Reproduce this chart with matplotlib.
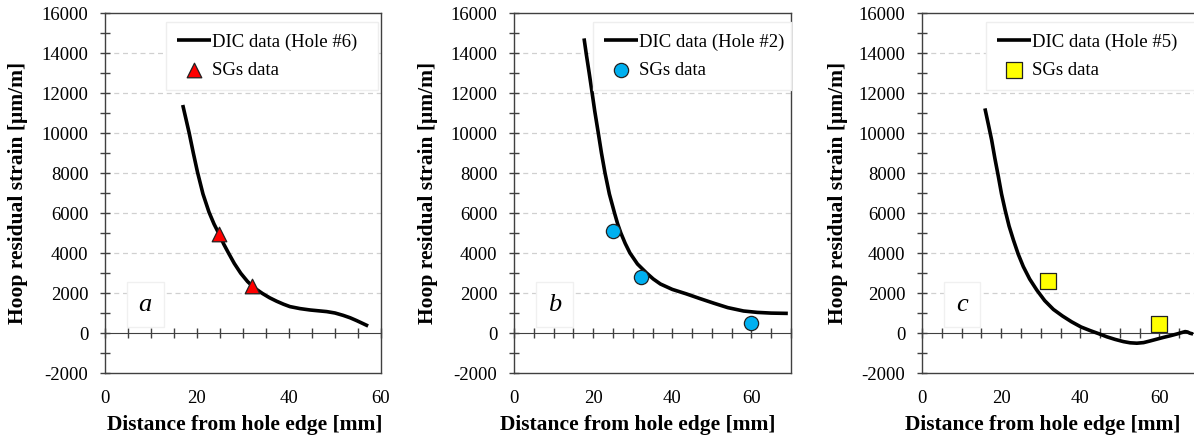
import matplotlib.pyplot as plt
from matplotlib.ticker import MultipleLocator

plt.rcParams['font.family'] = ['Liberation Serif', 'DejaVu Serif']
plt.rcParams['axes.unicode_minus'] = False

# panel a - hole #6
dic_a_x = [16.9, 17.6, 18.3, 19.2, 20.1, 21.3, 22.6, 23.7, 24.8, 25.8, 26.8, 28.1, 29.5, 31.0,
           32.5, 34.2, 35.8, 37.3, 38.8, 40.2, 42.4, 44.6, 46.4, 48.2, 50.0, 51.8, 53.3, 54.7,
           56.0, 57.2]
dic_a_y = [11400, 10700, 10000, 9000, 8050, 6950, 6050, 5450, 4950, 4450, 4020, 3480, 2990, 2570,
           2250, 1980, 1760, 1590, 1440, 1320, 1220, 1150, 1110, 1070, 1000, 880, 760, 620,
           480, 350]
sg_a_x = [24.8, 32.0]
sg_a_y = [4950, 2370]

# panel b - hole #2
dic_b_x = [17.7, 18.3, 19.0, 19.6, 20.4, 21.3, 22.1, 23.0, 24.1, 25.4, 26.2, 27.0, 28.1, 29.3,
           31.2, 33.5, 35.2, 37.0, 40.0, 43.5, 47.0, 50.5, 54.0, 58.0, 61.5, 65.0, 69.2]
dic_b_y = [14730, 13900, 13000, 12200, 11100, 10000, 9000, 8000, 6950, 6000, 5450, 5000, 4480, 4000,
           3450, 3000, 2700, 2450, 2180, 1960, 1720, 1490, 1270, 1100, 1030, 995, 980]
sg_b_x = [24.9, 32.0, 60.0]
sg_b_y = [5100, 2780, 480]

# panel c - hole #5
dic_c_x = [15.9, 16.8, 17.6, 18.4, 19.3, 20.1, 21.0, 22.0, 23.1, 24.3, 25.6, 27.2, 29.0, 31.0,
           33.2, 35.5, 37.8, 40.2, 42.5, 44.6, 46.7, 48.8, 50.9, 52.6, 54.3, 56.0, 57.6, 59.3,
           61.0, 62.7, 64.4, 65.6, 66.5, 67.1, 67.7, 68.5]
dic_c_y = [11230, 10400, 9650, 8750, 7820, 6950, 6150, 5350, 4650, 3950, 3320, 2700, 2150, 1620,
           1180, 850, 560, 300, 120, -30, -190, -320, -430, -490, -510, -480, -400, -310,
           -220, -140, -50, 20, 70, 50, -10, -50]
sg_c_x = [31.9, 60.0]
sg_c_y = [2620, 450]

# tag, curve, points, legend label, marker, colour, size, xmax, axes left/width px,
# x-label centre, y-label pos, legend box (x0, width)
panels = [
    ("a", dic_a_x, dic_a_y, sg_a_x, sg_a_y, "DIC data (Hole #6)", "^", "#ff0000", 110, 60, 105, 276,
     0.505, -0.279, (0.221, 0.768)),
    ("b", dic_b_x, dic_b_y, sg_b_x, sg_b_y, "DIC data (Hole #2)", "o", "#00b0f0", 105, 70, 514, 277,
     0.446, -0.274, (0.285, 0.715)),
    ("c", dic_c_x, dic_c_y, sg_c_x, sg_c_y, "DIC data (Hole #5)", "s", "#ffff00", 120, 70, 922, 277,
     0.437, -0.267, (0.231, 0.79)),
]

W, H = 1194, 440
fig = plt.figure(figsize=(W / 100, H / 100), dpi=100)

for (tag, dx, dy, sx, sy, lab, mk, col, msize, xmax, left_px, width_px,
     xlab_x, ylab_x, legbox) in panels:
    ax = fig.add_axes([left_px / W, 1 - 373 / H, width_px / W, 360 / H])
    ax.set_xlim(0, xmax)
    ax.set_ylim(-2000, 16000)

    for yy in range(2000, 16000, 2000):
        ax.axhline(yy, color="#d0d0d0", lw=0.9, ls=(0, (4, 3)), zorder=0)

    ax.plot(dx, dy, color="black", lw=2.6, label=lab, zorder=3,
            solid_capstyle="butt", solid_joinstyle="round")
    ax.scatter(sx, sy, marker=mk, s=msize, facecolor=col,
               edgecolor="#222222", linewidth=0.9, zorder=4, label="SGs data")

    for sp in ax.spines.values():
        sp.set_color("#404040")
        sp.set_linewidth(1.0)

    ax.yaxis.set_major_locator(MultipleLocator(2000))
    ax.yaxis.set_minor_locator(MultipleLocator(1000))
    ax.tick_params(axis="y", which="both", direction="inout", length=7, width=1.0,
                   color="#404040", labelsize=13.5, pad=8.5)
    ax.xaxis.set_major_locator(MultipleLocator(20))
    ax.tick_params(axis="x", which="both", length=0, labelsize=13.5, pad=12)

    # axis line through y = 0 with crossing ticks
    zero = ax.secondary_xaxis(2000 / 18000)
    zero.xaxis.set_major_locator(MultipleLocator(5))
    zero.tick_params(direction="inout", length=7, width=1.0, color="#404040",
                     labelbottom=False, labeltop=False)
    zero.spines["bottom"].set_color("#404040")
    zero.spines["top"].set_color("#404040")

    ax.set_xlabel("Distance from hole edge [mm]", fontsize=15.5, fontweight="bold")
    ax.set_ylabel("Hoop residual strain [μm/m]", fontsize=15.5, fontweight="bold")
    ax.xaxis.set_label_coords(xlab_x, -0.118)
    ax.yaxis.set_label_coords(ylab_x, 0.5)

    x0, w = legbox
    leg = ax.legend(loc="upper left", bbox_to_anchor=(x0, 0.975 - 0.4, w, 0.4), mode="expand",
                    fontsize=13.5, frameon=True, fancybox=False, edgecolor="#eeeeee",
                    framealpha=1, handlelength=1.8, handletextpad=0.05, borderpad=0.6,
                    labelspacing=0.6, scatterpoints=1, borderaxespad=0.0)
    leg.set_zorder(5)

    ax.text(0.145, 0.19, tag, transform=ax.transAxes, fontsize=19, style="italic",
            ha="center", va="center", zorder=5,
            bbox=dict(boxstyle="square,pad=0.45", facecolor="white", edgecolor="#f0f0f0"))

fig.savefig("out.png", dpi=100)
